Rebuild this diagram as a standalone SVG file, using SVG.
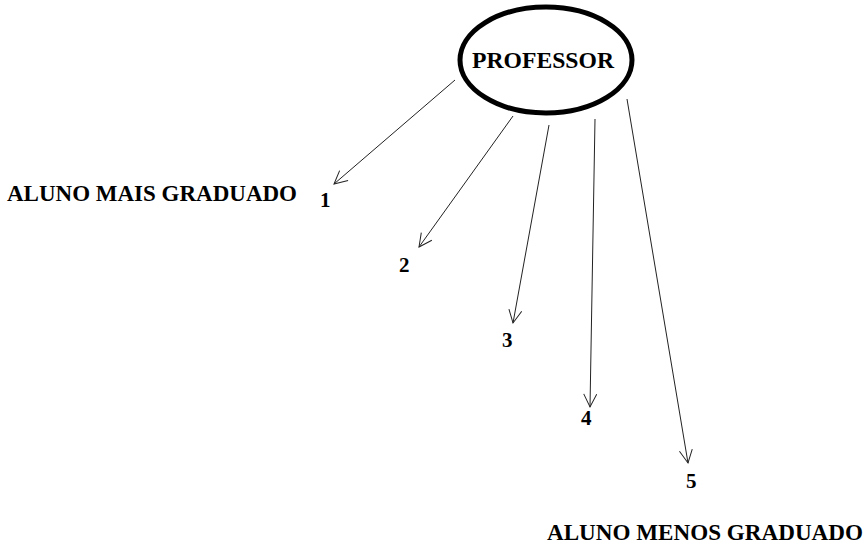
<svg xmlns="http://www.w3.org/2000/svg" width="867" height="547" viewBox="0 0 867 547">
<style>
.lbl{font-family:"Liberation Serif","Times New Roman",serif;font-weight:bold;fill:#000;}
.big{font-size:23px;}
.num{font-size:21px;}
.conn{stroke:#222;stroke-width:1;fill:none;marker-end:url(#arr);}
</style>
<defs>
<marker id="arr" markerUnits="userSpaceOnUse" markerWidth="16" markerHeight="16" refX="14" refY="7" orient="auto">
<path d="M1,0.5 L14,7 L1,13.5" fill="none" stroke="#222" stroke-width="1"/>
</marker>
</defs>
<rect width="867" height="547" fill="#fff"/>
<g id="connectors">
<line class="conn" x1="455" y1="80" x2="334" y2="184"/>
<line class="conn" x1="513" y1="116" x2="419" y2="247"/>
<line class="conn" x1="549" y1="125" x2="513" y2="323"/>
<line class="conn" x1="595" y1="119" x2="590" y2="407"/>
<line class="conn" x1="627" y1="99" x2="688" y2="463"/>
</g>
<g id="professor">
<ellipse cx="546" cy="60" rx="86" ry="53" fill="#fff" stroke="#000" stroke-width="5"/>
<text class="lbl" style="font-size:23.5px" x="472" y="68" textLength="142" lengthAdjust="spacingAndGlyphs">PROFESSOR</text>
</g>
<g id="aluno-mais"><text class="lbl big" x="7" y="201" textLength="290" lengthAdjust="spacingAndGlyphs">ALUNO MAIS GRADUADO</text></g>
<g id="n1"><text class="lbl num" x="320" y="207">1</text></g>
<g id="n2"><text class="lbl num" x="399" y="272">2</text></g>
<g id="n3"><text class="lbl num" x="502" y="347">3</text></g>
<g id="n4"><text class="lbl num" x="581" y="425">4</text></g>
<g id="n5"><text class="lbl num" x="686" y="488">5</text></g>
<g id="aluno-menos"><text class="lbl big" x="547" y="540" textLength="316" lengthAdjust="spacingAndGlyphs">ALUNO MENOS GRADUADO</text></g>
</svg>
